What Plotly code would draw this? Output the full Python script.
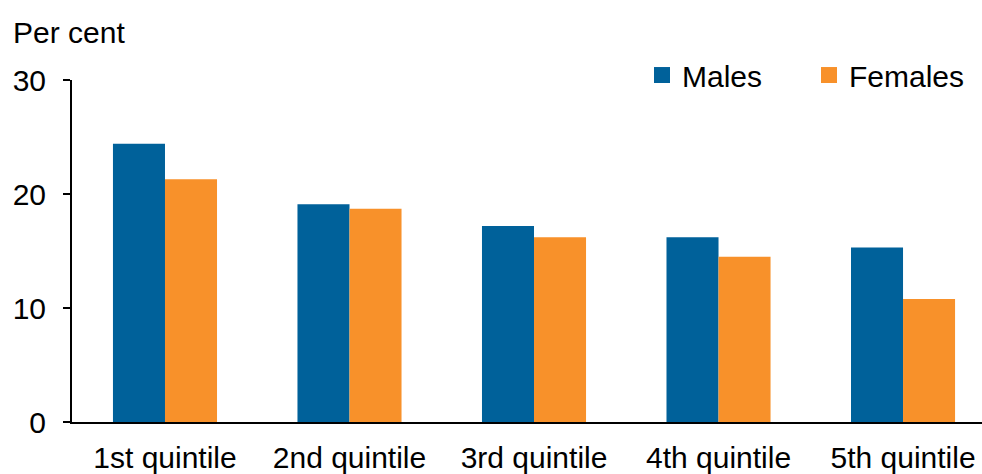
import plotly.graph_objects as go

categories = ["1st quintile", "2nd quintile", "3rd quintile", "4th quintile", "5th quintile"]
males = [24.4, 19.1, 17.2, 16.2, 15.3]
females = [21.3, 18.7, 16.2, 14.5, 10.8]
y_ticks = [0, 10, 20, 30]

BLUE = "#00619A"
ORANGE = "#F8912A"
FONT = "Arial, Liberation Sans, sans-serif"

fig = go.Figure()
fig.add_trace(go.Bar(x=categories, y=males, name="Males", marker=dict(color=BLUE, line=dict(width=0)), showlegend=False))
fig.add_trace(go.Bar(x=categories, y=females, name="Females", marker=dict(color=ORANGE, line=dict(width=0)), showlegend=False))
# legend entries
fig.add_trace(go.Scatter(x=[None], y=[None], mode="markers", name="Males",
                         marker=dict(symbol="square", size=16, color=BLUE)))
fig.add_trace(go.Scatter(x=[None], y=[None], mode="markers", name="Females",
                         marker=dict(symbol="square", size=16, color=ORANGE)))

fig.update_layout(
    width=982, height=474,
    margin=dict(l=72, r=0, t=80, b=50),
    paper_bgcolor="white", plot_bgcolor="white",
    font=dict(family=FONT, size=30, color="#000000"),
    barmode="group", bargap=0.436, bargroupgap=0,
    showlegend=True,
    legend=dict(orientation="h", x=(642 - 72) / 910, xanchor="left", y=(424 - 75) / 344, yanchor="middle",
                font=dict(size=30), bgcolor="rgba(0,0,0,0)", itemsizing="trace",
                entrywidth=122, entrywidthmode="pixels", traceorder="normal"),
    xaxis=dict(type="category", range=[-0.504, 4.428], showline=True, linecolor="black", linewidth=2,
               ticks="", showgrid=False, zeroline=False, ticklabelstandoff=8, fixedrange=True),
    yaxis=dict(range=[0, 30], tickvals=y_ticks, showline=True, linecolor="black", linewidth=2,
               ticks="outside", ticklen=7, tickwidth=2, tickcolor="black", showgrid=False,
               zeroline=False, ticklabelstandoff=11, fixedrange=True),
    annotations=[dict(text="Per cent", xref="paper", yref="paper", x=(11 - 72) / 910, y=(424 - 32) / 344,
                      xanchor="left", yanchor="middle", showarrow=False, font=dict(size=30))],
)

fig.write_html("out.html")
